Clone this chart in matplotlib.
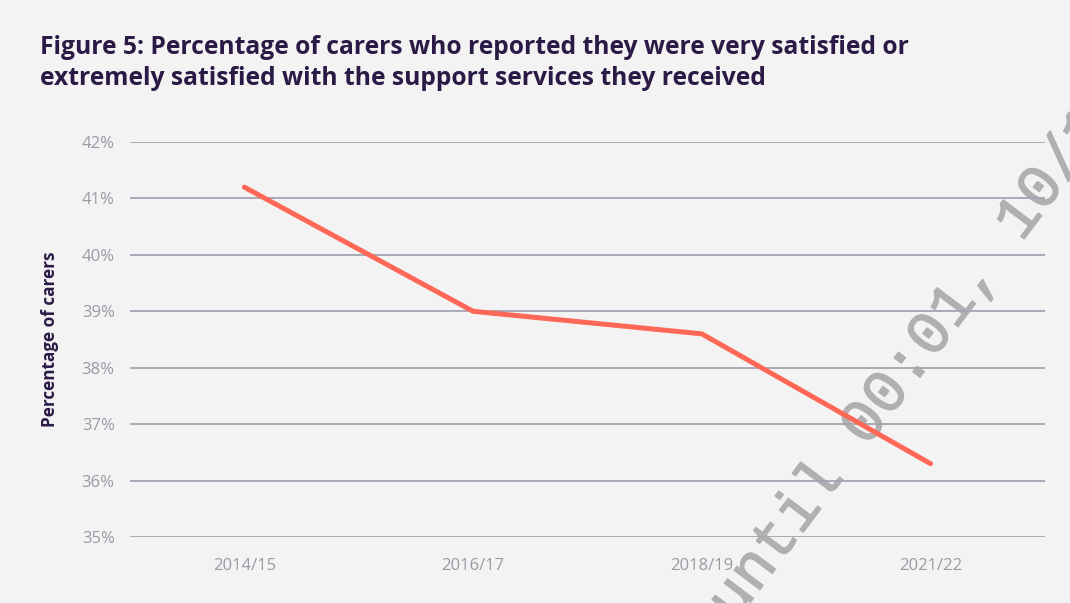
import matplotlib.pyplot as plt
import matplotlib.patheffects as pe
from matplotlib.ticker import FuncFormatter

years = ["2014/15", "2016/17", "2018/19", "2021/22"]
satisfied = [41.2, 39.0, 38.6, 36.3]
y_ticks = [35, 36, 37, 38, 39, 40, 41, 42]

bg = "#f3f3f3"
ink = "#2b1a45"
grey_txt = "#9a9aa6"
grid_col = "#a3a3b2"
line_col = "#ff6757"

plt.rcParams["font.family"] = ["Open Sans", "DejaVu Sans"]

fig = plt.figure(figsize=(10.7, 6.03), dpi=100, facecolor=bg)
ax = fig.add_axes([0.1215, 0.1095, 0.855, 0.655])
ax.patch.set_visible(False)

x = range(len(years))
ax.plot(x, satisfied, color=line_col, lw=3.6, solid_capstyle="round",
        solid_joinstyle="round", zorder=3)

ax.set_xlim(-0.5, 3.5)
ax.set_ylim(35, 42)
ax.set_yticks(y_ticks)
ax.yaxis.set_major_formatter(FuncFormatter(lambda v, _: f"{v:.0f}%"))
ax.set_xticks(list(x))
ax.set_xticklabels(years)
ax.grid(axis="y", color=grid_col, lw=1.3, zorder=1)
ax.grid(axis="x", visible=False)
for s in ax.spines.values():
    s.set_visible(False)
ax.tick_params(axis="both", length=0, labelsize=12, labelcolor=grey_txt)
ax.tick_params(axis="y", pad=11)
ax.tick_params(axis="x", pad=15)

ax.set_ylabel("Percentage of carers", fontsize=12.3, fontweight="bold",
              color=ink, labelpad=16)

fig.text(0.037, 0.895,
         "Figure 5: Percentage of carers who reported they were very satisfied or\n"
         "extremely satisfied with the support services they received",
         fontsize=17.7, fontweight="bold", color=ink, ha="left", va="center",
         linespacing=1.32)

# diagonal embargo stamp, drawn behind the axes
fig.text(0.850, 0.394, "until 00:01, 10/1", family="Liberation Mono",
         fontsize=44, color="#b0b0b0",
         rotation=53, rotation_mode="anchor", ha="center", va="center",
         zorder=-1,
         path_effects=[pe.Stroke(linewidth=1.0, foreground="#b0b0b0",
                                 capstyle="round", joinstyle="round"),
                       pe.Normal()])

fig.savefig("out.png", dpi=100, facecolor=bg)
